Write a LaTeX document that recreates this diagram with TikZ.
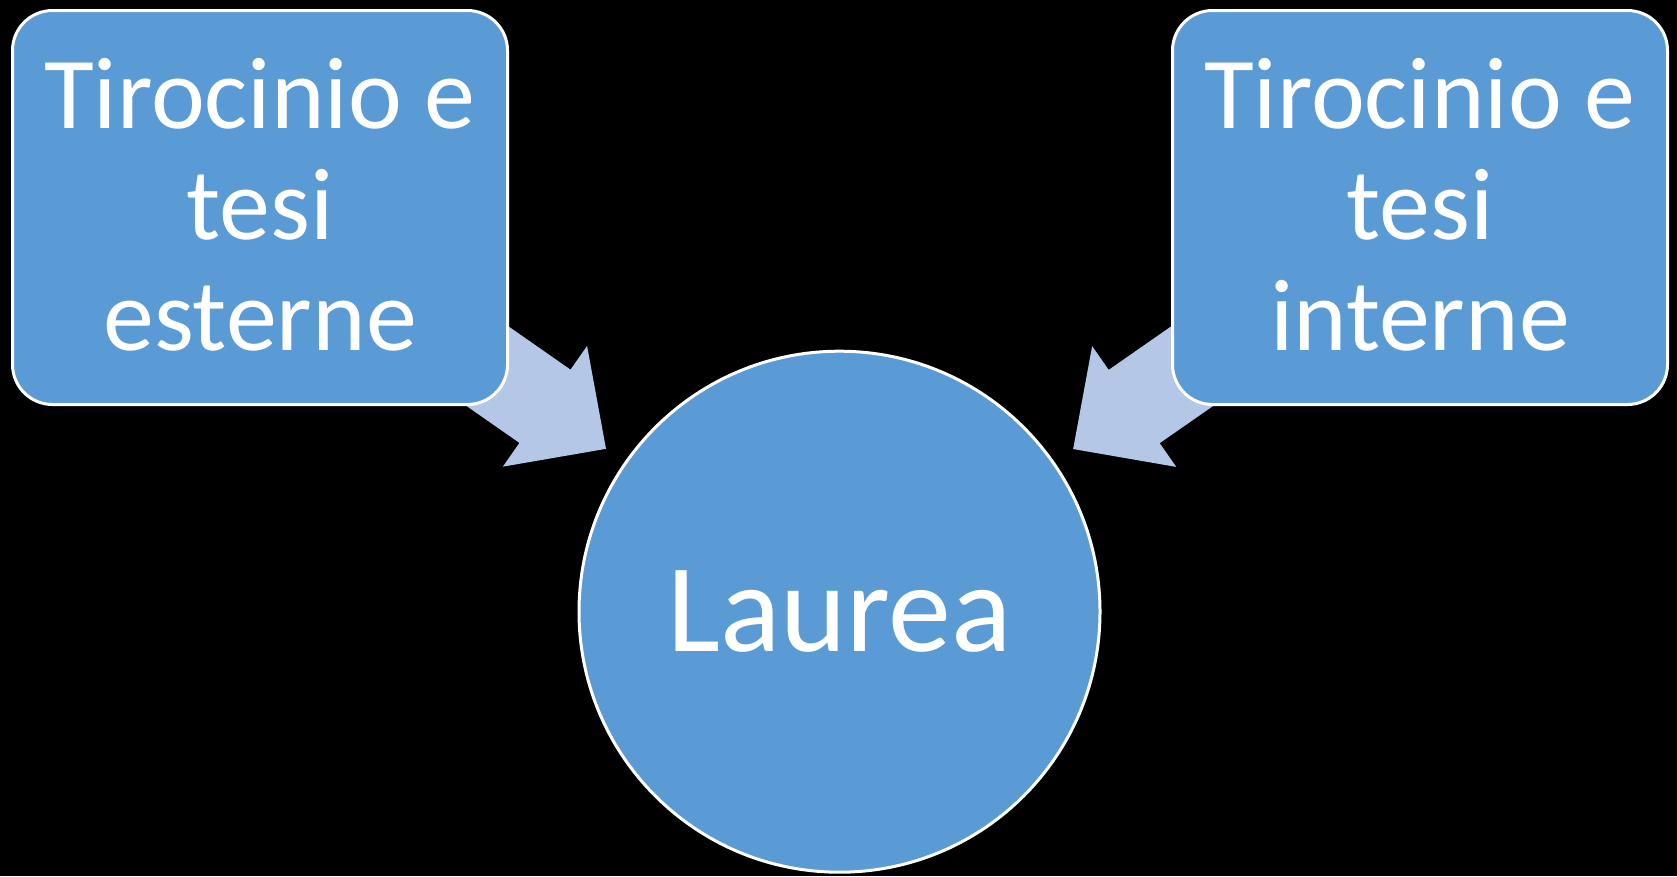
\documentclass[tikz,border=0pt]{standalone}
\usepackage{fontspec}
\setmainfont{Carlito}
\usetikzlibrary{calc}
\pgfdeclarelayer{background}
\pgfsetlayers{background,main}
\definecolor{boxblue}{HTML}{5B9BD5}
\definecolor{arrowblue}{HTML}{B4C7E7}
\tikzset{
  rbox/.style={draw=white, line width=3pt, fill=boxblue, rounded corners=40pt,
    minimum width=495pt, minimum height=394pt, inner sep=0pt},
  boxtext/.style={text=white, align=center, inner sep=0pt,
    font=\fontsize{102}{111}\selectfont},
  circ/.style={circle, draw=white, line width=3pt, fill=boxblue, minimum size=521pt,
    inner sep=0pt, text=white, font=\fontsize{126}{132}\selectfont},
  arrowfill/.style={fill=arrowblue}
}
\begin{document}
\begin{tikzpicture}[x=1pt,y=-1pt]
\useasboundingbox (0,0) rectangle (1677,876);
\node[rbox] (L) at (260,207.5) {};
\node[rbox] (R) at (1420,207.5) {};
\node[boxtext] (Lt) at (260,204.5) {Tirocinio e\\tesi\\esterne};
\node[boxtext] (Rt) at (1420,204.5) {Tirocinio e\\tesi\\interne};
\node[circ] (C) at (839.5,611.7) {Laurea};
\begin{pgfonlayer}{background}
  \fill[black] (0,0) rectangle (1677,876);
  \foreach \b in {L,R}{
    \coordinate (t) at ($(C.center)!284.7pt!(\b.center)$);
    \coordinate (h) at ($(t)!74.4pt!(\b.center)$);
    \coordinate (s) at ($(t)!300pt!(\b.center)$);
    \fill[arrowfill] ($(s)!44.65pt!-90:(t)$) -- ($(h)!44.65pt!90:(\b.center)$)
      -- ($(h)!73.6pt!90:(\b.center)$) -- (t)
      -- ($(h)!73.6pt!-90:(\b.center)$) -- ($(h)!44.65pt!-90:(\b.center)$)
      -- ($(s)!44.65pt!90:(t)$) -- cycle;
  }
\end{pgfonlayer}
\end{tikzpicture}
\end{document}
